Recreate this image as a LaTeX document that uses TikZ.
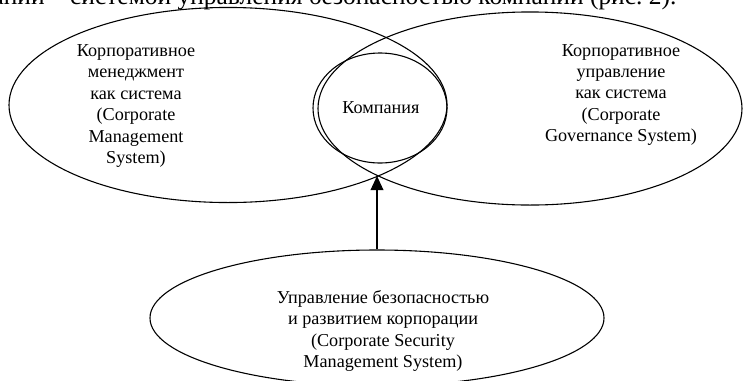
\documentclass[tikz,border=0pt]{standalone}
\usepackage{fontspec}
\setmainfont{Liberation Serif}
\usetikzlibrary{shapes.geometric,arrows.meta}

\begin{document}
\begin{tikzpicture}[x=0.55pt,y=-0.55pt,line width=0.6pt,
  oval/.style={draw,ellipse,inner sep=0pt},
  systext/.style={align=center,inner sep=0pt,font=\fontsize{10}{11.8}\selectfont}]
  \useasboundingbox (0,0) rectangle (743,381);
  \node[anchor=base east,inner sep=0pt,font=\fontsize{14}{16}\selectfont]
    (bodyline) at (677,4.5) {компании -- системой управления безопасностью компании (рис.~2).};

  \node[oval,minimum width=240.9pt,minimum height=107.3pt] (mgmt) at (228,105) {};
  \node[oval,minimum width=233.2pt,minimum height=106.2pt] (gov) at (530,108.5) {};
  \node[oval,minimum width=73.7pt,minimum height=60.5pt] (firm) at (380,108) {};
  \node[oval,minimum width=249.7pt,minimum height=74.8pt] (secur) at (377,318) {};

  \node[systext] (mgmttext) at (136,106)
    {Корпоративное\\менеджмент\\как система\\(Corporate\\Management\\System)};
  \node[systext] (govtext) at (621,95)
    {Корпоративное\\управление\\как система\\(Corporate\\Governance System)};
  \node[systext] (firmtext) at (381,108) {Компания};
  \node[systext] (securtext) at (383,331)
    {Управление безопасностью\\и развитием корпорации\\(Corporate Security\\Management System)};

  \coordinate (meet) at (377,176);
  \draw[-{Triangle[length=7.7pt,width=7pt]}] (secur.north) -- (meet);
\end{tikzpicture}
\end{document}
